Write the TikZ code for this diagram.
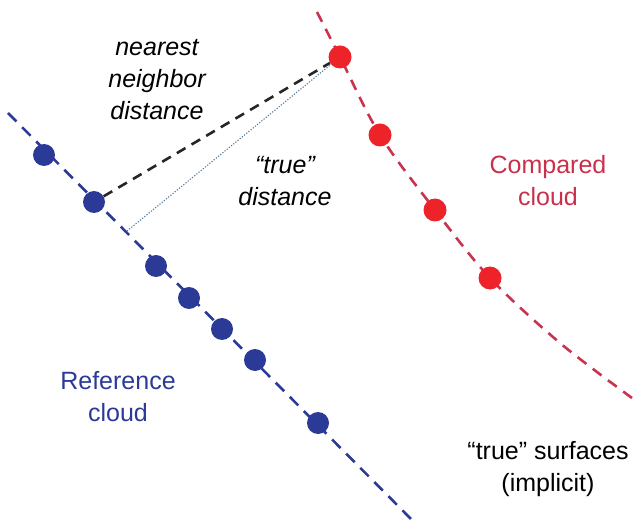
\documentclass[tikz,border=0pt]{standalone}
\usepackage{fontspec}
\setmainfont{Liberation Sans}
\definecolor{refblue}{HTML}{2B3A97}
\definecolor{cmpred}{HTML}{EE2229}
\definecolor{cmpline}{HTML}{C8334E}
\definecolor{cmptext}{HTML}{C8304C}
\definecolor{truedot}{HTML}{5A7A9A}
\begin{document}
\begin{tikzpicture}[x=1pt,y=-1pt,
  refdot/.style={circle,fill=refblue,inner sep=0pt,minimum size=22pt},
  cmpdot/.style={circle,fill=cmpred,inner sep=0pt,minimum size=23pt},
  refline/.style={draw=refblue,line width=2.6pt,dash pattern=on 12pt off 8pt},
  cmpline/.style={draw=cmpline,line width=2.6pt,dash pattern=on 11pt off 8pt},
  nndist/.style={draw=black!85,line width=2.6pt,dash pattern=on 10pt off 7pt},
  truedist/.style={draw=truedot,line width=1.1pt,dash pattern=on 1.2pt off 1.6pt},
  lbl/.style={align=center,font=\fontsize{25}{32}\selectfont,inner sep=0pt}]
\useasboundingbox (0,0) rectangle (636,526);
% implicit surfaces
\coordinate (rtop) at (8,113);
\coordinate (rbot) at (416,524);
\coordinate (foot) at (127,231);
\draw[refline] (rtop) -- (rbot);
\draw[cmpline] plot[smooth,tension=0.55] coordinates
  {(317,12) (340,57) (380,135) (435,210) (490,278) (560,343) (632,398)};
% distances
\node[cmpdot] (c1) at (340,57) {};
\node[refdot] (r2) at (94,202) {};
\draw[nndist] (r2) -- (c1);
\draw[truedist] (foot) -- (c1);
% reference cloud points
\node[refdot] (r1) at (44,155) {};
\node[refdot] (r3) at (156,266) {};
\node[refdot] (r4) at (189,298) {};
\node[refdot] (r5) at (222,329) {};
\node[refdot] (r6) at (255,360) {};
\node[refdot] (r7) at (318,423) {};
% compared cloud points
\node[cmpdot] (c2) at (380,135) {};
\node[cmpdot] (c3) at (435,210) {};
\node[cmpdot] (c4) at (490,278) {};
% labels
\node[lbl,font=\fontsize{25}{32}\selectfont\itshape] (nnl) at (157,80) {nearest\\neighbor\\distance};
\node[lbl,font=\fontsize{25}{32}\selectfont\itshape] (tdl) at (285,181) {“true”\\distance};
\node[lbl,text=cmptext] (cml) at (548,181) {Compared\\cloud};
\node[lbl,text=refblue] (rfl) at (118,397) {Reference\\cloud};
\node[lbl] (tsl) at (548,469) {“true” surfaces\\(implicit)};
\end{tikzpicture}
\end{document}
